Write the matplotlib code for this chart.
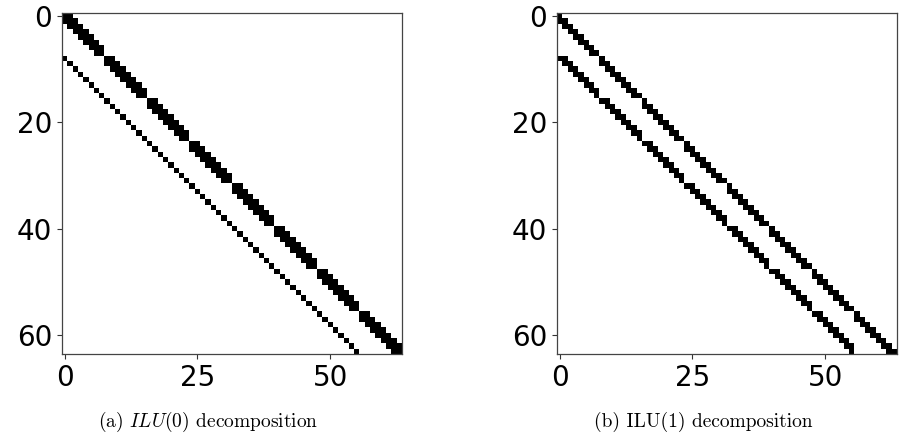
"""Sparsity patterns of ILU(0) and ILU(1) factors for the 8x8 five-point Laplacian."""
import numpy as np
import matplotlib

matplotlib.use("Agg")
import matplotlib.pyplot as plt  # noqa: E402

plt.rcParams["mathtext.fontset"] = "cm"

GRID_N = 8  # points per grid line, matrix is GRID_N**2 square
ILU0_OFFSETS = [-8, -1, 0, 1]
ILU1_OFFSETS = [-8, -7, -1, 0]
XTICKS = [0, 25, 50]
YTICKS = [0, 20, 40, 60]
CAPTIONS = ["(a) $ILU(0)$ decomposition", "(b) ILU(1) decomposition"]


def _pattern(offsets, n=GRID_N):
    size = n * n
    mat = np.zeros((size, size))
    for i in range(size):
        for off in offsets:
            j = i + off
            if j < 0 or j >= size:
                continue
            # couplings across a grid-line boundary are absent
            if off == -1 and i % n == 0:
                continue
            if off == 1 and i % n == n - 1:
                continue
            if off == -7 and i % n == n - 1:
                continue
            mat[i, j] = 1.0
    return mat


fig = plt.figure(figsize=(8.99, 4.45), dpi=100)
W, H = 899, 445
boxes = [(62, 13, 340, 341), (557, 13, 340, 341)]
cap_x = [208, 703]

for (x0, y0, w, h), offsets, cap, cx in zip(boxes, [ILU0_OFFSETS, ILU1_OFFSETS], CAPTIONS, cap_x):
    ax = fig.add_axes([x0 / W, 1 - (y0 + h) / H, w / W, h / H])
    ax.imshow(_pattern(offsets), cmap="binary", vmin=0, vmax=1, aspect="auto")
    ax.set_xticks(XTICKS)
    ax.set_yticks(YTICKS)
    ax.tick_params(labelsize=20, color="#333333")
    for s in ax.spines.values():
        s.set_color("#444444")
        s.set_linewidth(0.9)
    fig.text(cx / W, 1 - 422 / H, cap, ha="center", va="center",
             fontsize=14, family="cmr10")

fig.savefig("out.png", dpi=100)
